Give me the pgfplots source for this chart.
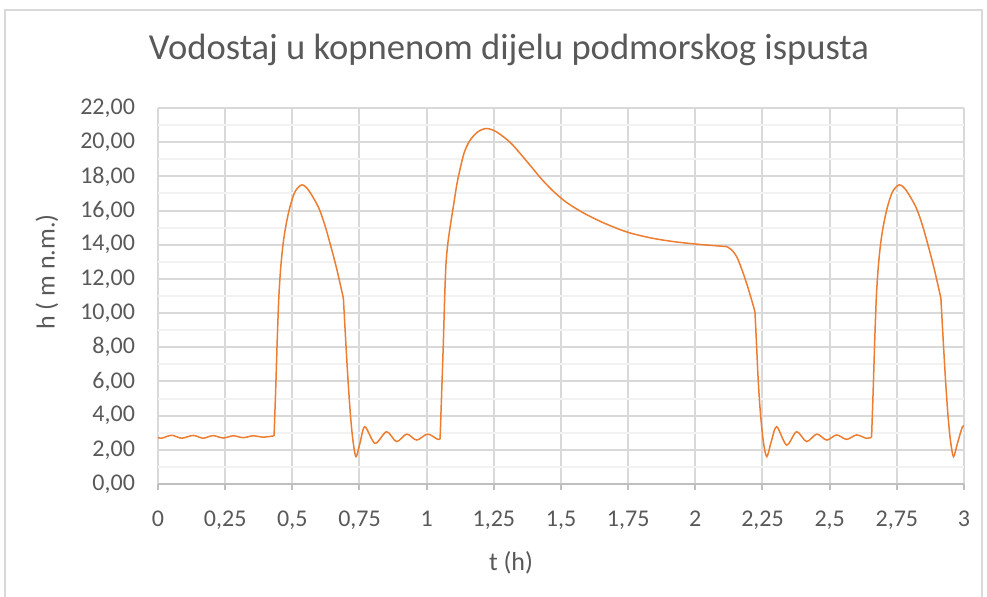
\documentclass[border=0pt]{standalone}
\usepackage{fontspec}
\setmainfont{Carlito}
\usepackage{pgfplots}
\pgfplotsset{compat=1.18}
\definecolor{linec}{HTML}{ED7D31}
\definecolor{txt}{HTML}{595959}
\definecolor{gridc}{HTML}{D9D9D9}
\definecolor{mgridc}{HTML}{F2F2F2}
\definecolor{axc}{HTML}{BFBFBF}
\pgfplotsset{ol/.style={linec, line width=0.75pt, smooth, tension=0.5, mark=none, solid}}
\begin{document}
\begin{tikzpicture}
\useasboundingbox (-79pt,-56.5pt) rectangle (414.5pt,242pt);
\draw[gridc, line width=1pt] (-76.5pt,-60pt) -- (-76.5pt,237pt) -- (412pt,237pt) -- (412pt,-60pt);
\begin{axis}[
  at={(0,0)}, anchor=south west,
  scale only axis, width=403pt, height=188pt,
  xmin=0, xmax=3, ymin=0, ymax=22,
  axis x line*=bottom, axis y line*=left,
  x axis line style={axc, line width=1pt},
  y axis line style={draw=none},
  xtick={0,0.25,0.5,0.75,1,1.25,1.5,1.75,2,2.25,2.5,2.75,3},
  xticklabels={0,{0,25},{0,5},{0,75},1,{1,25},{1,5},{1,75},2,{2,25},{2,5},{2,75},3},
  ytick={0,2,4,6,8,10,12,14,16,18,20,22},
  yticklabels={{0,00},{2,00},{4,00},{6,00},{8,00},{10,00},{12,00},{14,00},{16,00},{18,00},{20,00},{22,00}},
  minor ytick={1,3,5,7,9,11,13,15,17,19,21},
  xmajorgrids, ymajorgrids, yminorgrids,
  major grid style={gridc, line width=1pt},
  minor grid style={mgridc, line width=1pt},
  tick align=outside,
  major tick length=3pt, minor tick length=0pt,
  xtick style={axc, line width=1pt},
  ytick style={draw=none},
  ticklabel style={text=txt, font=\fontsize{12}{14}\selectfont},
  xticklabel style={yshift=-7pt},
  yticklabel style={xshift=-5pt},
  xlabel={t (h)}, ylabel={h ( m n.m.)},
  label style={text=txt, font=\fontsize{13}{15}\selectfont},
  x label style={at={(axis description cs:0.438,-0.21)}, anchor=center},
  y label style={at={(axis description cs:-0.1377,0.564)}, anchor=center, rotate=0},
]
\addplot[ol] coordinates {(0,2.72) (0.014,2.68) (0.051,2.85) (0.088,2.68) (0.131,2.84) (0.168,2.68) (0.205,2.83) (0.243,2.69) (0.28,2.82) (0.318,2.71) (0.354,2.82) (0.392,2.74) (0.432,2.82)};
\addplot[ol] coordinates {(0.432,2.82)(0.438,5.5)(0.444,8.5)(0.450,11.0)(0.457,12.7)(0.466,14.1)(0.477,15.2)(0.491,16.2)(0.51,17.1)(0.535,17.5)(0.56,17.2)(0.597,16.2)(0.62,15.2)(0.64,14.1)(0.665,12.6)(0.690,10.87)};
\addplot[ol] coordinates {(0.690,10.87)(0.699,8.3)(0.708,5.9)(0.717,3.9)(0.726,2.5)(0.737,1.6)(0.752,2.4)(0.770,3.35)(0.808,2.38)(0.851,3.06)(0.888,2.48)(0.926,2.92)(0.963,2.57)(1.003,2.92)(1.040,2.62)(1.050,2.64)};
\addplot[ol] coordinates {(1.050,2.64)(1.056,5.4)(1.062,8.2)(1.067,10.9)(1.072,12.9)(1.079,14.1)(1.088,15.1)(1.1,16.3)(1.112,17.5)(1.124,18.4)(1.14,19.4)(1.161,20.1)(1.19,20.6)(1.223,20.8)(1.26,20.6)(1.31,20.0)(1.35,19.3)(1.39,18.55)(1.43,17.8)(1.47,17.15)(1.51,16.6)(1.55,16.17)(1.6,15.72)(1.67,15.2)(1.75,14.72)(1.84,14.38)(1.92,14.18)(2.0,14.04)(2.06,13.96)(2.117,13.89)};
\addplot[ol] coordinates {(2.117,13.89)(2.135,13.7)(2.154,13.3)(2.172,12.6)(2.191,11.74)(2.207,10.9)(2.222,10.08)};
\addplot[ol] coordinates {(2.222,10.08)(2.228,8.1)(2.234,6.1)(2.242,4.2)(2.253,2.5)(2.266,1.6)(2.283,2.5)(2.303,3.35)(2.34,2.28)(2.377,3.06)(2.414,2.48)(2.452,2.92)(2.489,2.57)(2.526,2.87)(2.563,2.61)(2.6,2.87)(2.637,2.67)(2.656,2.74)};
\addplot[ol] coordinates {(2.656,2.74)(2.662,5.5)(2.668,8.5)(2.674,11.0)(2.681,12.7)(2.690,14.1)(2.701,15.2)(2.715,16.2)(2.734,17.1)(2.759,17.5)(2.784,17.2)(2.821,16.2)(2.844,15.2)(2.864,14.1)(2.889,12.6)(2.914,10.87)};
\addplot[ol] coordinates {(2.914,10.87)(2.923,8.3)(2.932,5.9)(2.941,3.9)(2.950,2.5)(2.961,1.6)(2.976,2.4)(2.994,3.35)(3.0,3.33)};
\end{axis}
\node[anchor=base, text=txt, font=\fontsize{18.3}{22}\selectfont] at (175.5pt,212pt) {Vodostaj u kopnenom dijelu podmorskog ispusta};
\end{tikzpicture}
\end{document}
